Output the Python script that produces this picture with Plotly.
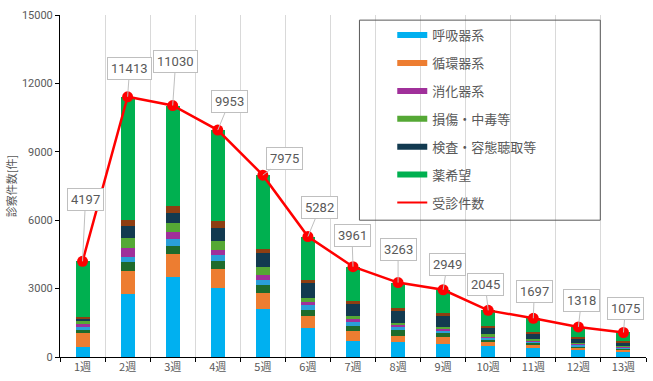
import plotly.graph_objects as go

weeks = ["1週", "2週", "3週", "4週", "5週", "6週", "7週", "8週", "9週", "10週", "11週", "12週", "13週"]
totals = [4197, 11413, 11030, 9953, 7975, 5282, 3961, 3263, 2949, 2045, 1697, 1318, 1075]

respiratory = [450, 2760, 3500, 3030, 2110, 1260, 720, 660, 580, 480, 380, 290, 220]
circulatory = [620, 1020, 1020, 850, 700, 530, 440, 280, 290, 190, 160, 120, 100]
other_a = [150, 380, 350, 350, 350, 290, 220, 230, 175, 110, 90, 70, 60]
other_b = [80, 230, 290, 260, 200, 190, 175, 130, 115, 80, 65, 55, 50]
digestive = [150, 410, 320, 190, 220, 130, 100, 100, 75, 55, 45, 35, 30]
injury = [150, 440, 410, 400, 350, 190, 145, 90, 100, 75, 60, 50, 40]
exam = [80, 500, 410, 560, 630, 670, 530, 540, 470, 300, 230, 180, 150]
other_c = [80, 290, 320, 310, 190, 130, 120, 120, 145, 90, 70, 58, 45]
medicine = [2437, 5383, 4410, 4003, 3225, 1892, 1511, 1113, 999, 665, 597, 460, 380]

# label offsets (pixels) for callouts
label_dx = [3, 2, 3, 12, 22, 12, -1, 0, 4, -3, 1, 3, 2]
label_dy = [-62, -28, -44, -29, -17, -29, -31, -33, -25, -26, -27, -26, -24]

series = [
    ("呼吸器系", respiratory, "#00B0F0", True),
    ("循環器系", circulatory, "#ED7D31", True),
    ("その他A", other_a, "#1E6B2C", False),
    ("その他B", other_b, "#2A9FD8", False),
    ("消化器系", digestive, "#A0309A", True),
    ("損傷・中毒等", injury, "#55A835", True),
    ("検査・容態聴取等", exam, "#123A50", True),
    ("その他C", other_c, "#8E3E12", False),
    ("薬希望", medicine, "#00B050", True),
]

fig = go.Figure()
for name, vals, color, _ in series:
    fig.add_trace(go.Bar(x=weeks, y=vals, name=name, marker=dict(color=color, line=dict(width=0)),
                         width=0.31, showlegend=False))

fig.add_trace(go.Scatter(x=weeks, y=totals, mode="lines+markers", name="受診件数",
                         line=dict(color="#FF0000", width=2.5),
                         marker=dict(color="#FF0000", size=11), showlegend=False))

# legend entries
gi = 0
for name, vals, color, leg in series:
    if leg:
        fig.add_trace(go.Scatter(x=[weeks[0]], y=[None], mode="lines", name=name,
                                 line=dict(color=color, width=6), legendgroup=f"g{gi}",
                                 showlegend=True))
        gi += 1
fig.add_trace(go.Scatter(x=[weeks[0]], y=[None], mode="lines", name="受診件数",
                         line=dict(color="#FF0000", width=2), legendgroup=f"g{gi}", showlegend=True))

for w, t, dx, dy in zip(weeks, totals, label_dx, label_dy):
    fig.add_annotation(x=w, y=t, xref="x", yref="y", text=str(t), showarrow=True,
                       ax=dx, ay=dy, arrowhead=0, arrowwidth=1, arrowcolor="#BFBFBF",
                       standoff=0, bgcolor="white", bordercolor="#BFBFBF", borderwidth=1,
                       borderpad=3, font=dict(family="Roboto", size=13, color="#595959"))

fig.add_shape(type="rect", xref="paper", yref="paper", x0=0.511, x1=0.922, y0=0.40, y1=0.985,
              line=dict(color="#595959", width=1), fillcolor="rgba(0,0,0,0)", layer="above")

fig.update_layout(
    width=653, height=381,
    margin=dict(l=60, r=7, t=15, b=24),
    plot_bgcolor="white", paper_bgcolor="white",
    barmode="stack",
    font=dict(family="Noto Sans CJK JP", size=11, color="#595959"),
    legend=dict(x=0.567, y=0.985, xanchor="left", yanchor="top", bgcolor="rgba(0,0,0,0)",
                borderwidth=0, font=dict(family="Noto Sans CJK JP", size=13, color="#595959"),
                traceorder="grouped", tracegroupgap=8, itemwidth=30),
    xaxis=dict(categoryorder="array", categoryarray=weeks, range=[-0.5, 12.5], showline=True,
               linecolor="black", linewidth=1, ticks="outside", ticklen=4, tickcolor="black",
               tickson="boundaries", showgrid=True, gridcolor="#D9D9D9", gridwidth=1,
               tickfont=dict(family="Noto Sans CJK JP", size=11, color="#595959")),
    yaxis=dict(range=[0, 15000], dtick=3000, tickformat="d", showline=True, linecolor="black",
               linewidth=1, ticks="outside", ticklen=4, tickcolor="black", showgrid=False,
               zeroline=False, tickfont=dict(family="Roboto", size=11, color="#595959"),
               title=dict(text="診察件数[件]", font=dict(family="Noto Sans CJK JP", size=11, color="#595959"),
                          standoff=3)),
)

fig.write_html("out.html")
